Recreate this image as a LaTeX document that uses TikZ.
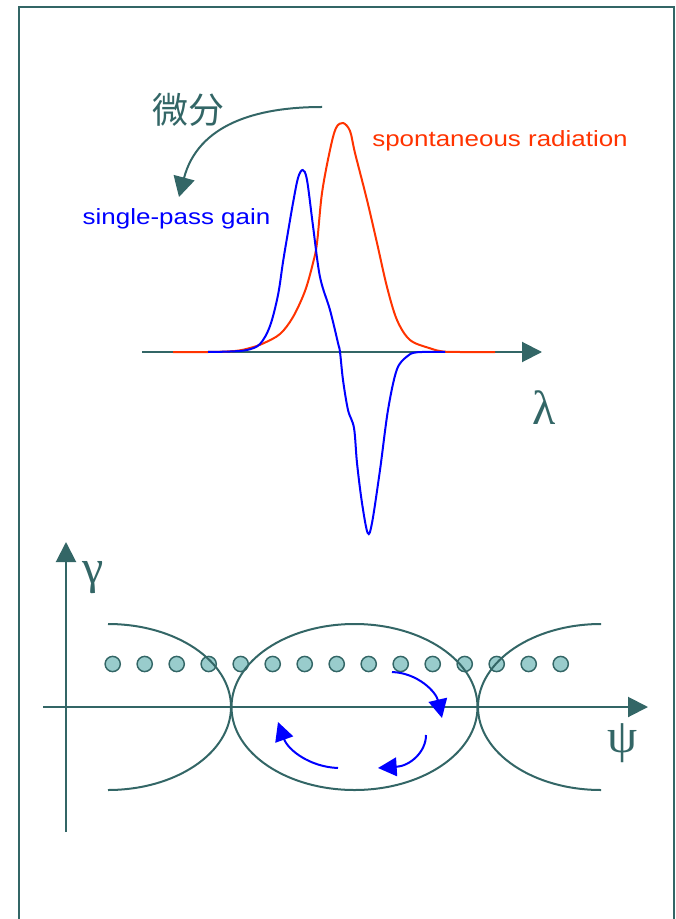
\documentclass[tikz,border=0pt]{standalone}
\usepackage{fontspec}
\setmainfont{Liberation Sans}
\newfontfamily\greek{Liberation Serif}
\newfontfamily\cjk{Noto Sans CJK SC}
\usetikzlibrary{arrows.meta}
\definecolor{slate}{RGB}{51,102,102}
\definecolor{dotfill}{RGB}{153,204,204}
\definecolor{spont}{RGB}{255,51,0}
\begin{document}
\begin{tikzpicture}[x=.75pt,y=-.75pt,line width=1.5pt,
  axis/.style={draw=slate,-{Triangle[length=15pt,width=15pt]}},
  turn/.style={draw=blue,-{Triangle[length=14pt,width=14pt]}},
  lbl/.style={font=\fontsize{16.5}{18}\selectfont,xscale=1.18,anchor=base,inner sep=0pt},
  sym/.style={font=\greek\fontsize{36}{40}\selectfont,text=slate,inner sep=0pt},
  bunch/.style={circle,draw=slate,fill=dotfill,line width=1.1pt,inner sep=0pt,minimum size=11.4pt}]
\useasboundingbox (0,0) rectangle (675,919);
\draw[slate] (19,935)--(19,7)--(674,7)--(674,935);
\coordinate (lamL) at (142,352); \coordinate (lamR) at (542,352);
\draw[axis] (lamL)--(lamR);
\node[sym] (lam) at (543.7,407.5) {λ};
\draw[spont] plot[smooth,tension=.55] coordinates {(173,352) (208,352) (235,351) (250,348) (263,343.5) (280,334) (293,317) (305,291) (313,263) (317,243) (322,193) (330,150) (336,128) (343,123) (350,131) (355,153) (367,200) (377,243) (387,287) (397,320) (410,340) (430,348.3) (443,351.5) (460,352) (495,352)};
\draw[blue] plot[smooth,tension=.55] coordinates {(208,352) (230,351.5) (247,350) (260,344) (270,326) (278,295) (283,262) (288,232) (293,203) (298,178) (302.7,170) (307,180) (313,226) (320,277) (330,310) (338,343) (340,352) (343,380) (348,410) (354,428) (357,463) (362,503) (367.7,533) (372,523) (380,470) (388,410) (396.7,370) (406.7,356.7) (416.7,352.3) (445,352)};
\node[lbl,text=blue] (gain) at (176.5,225) {single-pass gain};
\node[lbl,text=spont] (rad) at (500,146.7) {spontaneous radiation};
\node[font=\cjk\fontsize{27}{30}\selectfont,text=slate,inner sep=0pt] (diff) at (188,110) {微分};
\coordinate (dstart) at (322,107); \coordinate (dend) at (179,197);
\draw[draw=slate,-{Triangle[length=15pt,width=16pt]}] (dstart) .. controls (255,107) and (198,125) .. (dend);
\foreach \i in {0,...,14}{\node[bunch] (b\i) at ({112.7+32*\i},664) {};}
\draw[slate] (354.5,707) ellipse [x radius=123,y radius=83];
\draw[slate] (108,790) arc[start angle=90,end angle=-90,x radius=123,y radius=83];
\draw[slate] (601,790) arc[start angle=90,end angle=270,x radius=123,y radius=83];
\coordinate (psiL) at (43,707); \coordinate (psiR) at (648,707);
\coordinate (gamB) at (66,832); \coordinate (gamT) at (66,542);
\draw[axis] (psiL)--(psiR);
\draw[axis] (gamB)--(gamT);
\node[sym] (gam) at (93,577.5) {γ};
\node[sym] (psi) at (623,743) {ψ};
\coordinate (t1) at (392,672); \coordinate (h1) at (442,718);
\coordinate (t2) at (426,735); \coordinate (h2) at (378,768);
\coordinate (t3) at (338,768); \coordinate (h3) at (278,722);
\draw[turn] (t1) .. controls (418,673) and (436,692) .. (h1);
\draw[turn] (t2) .. controls (426,752) and (410,766) .. (h2);
\draw[turn] (t3) .. controls (310,767) and (288,750) .. (h3);
\end{tikzpicture}
\end{document}
